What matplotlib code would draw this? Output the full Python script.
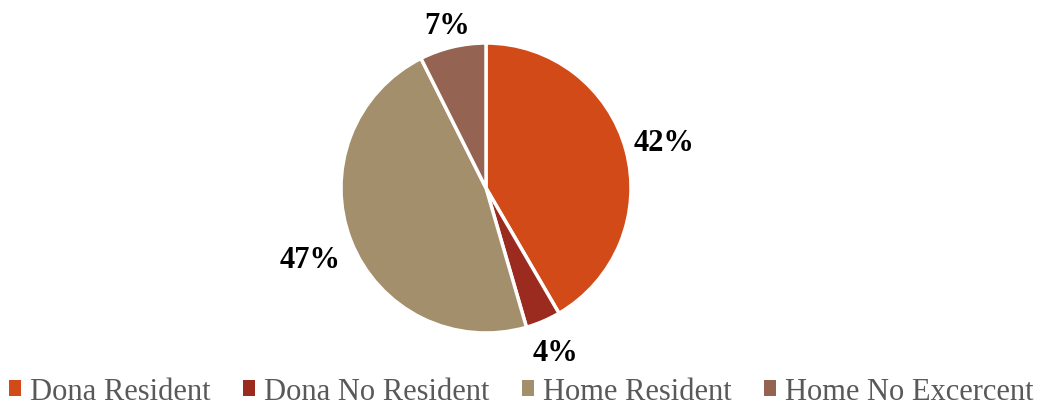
import matplotlib
matplotlib.use("Agg")
from matplotlib import pyplot as plt
from matplotlib.patches import Patch
import numpy as np

categories = ['Dona Resident', 'Dona No Resident', 'Home Resident', 'Home No Excercent']
shares = [41.6, 3.9, 47.1, 7.4]
colors = ['#D24A18', '#9B2B1E', '#A38F6B', '#956352']
# distance of each percent label from the centre (in radii)
label_dist = [1.27, 1.22, 1.30, 1.17]

plt.rcParams['font.family'] = ['Liberation Serif', 'DejaVu Serif']

fig = plt.figure(figsize=(10.43, 4.10), dpi=100)
# pie area: center ~ (486,189) px, radius ~145 px
ax = fig.add_axes([(486 - 145) / 1043, (410 - 189 - 145) / 410, 290 / 1043, 290 / 410])

wedges, texts = ax.pie(
	shares, colors=colors, startangle=90, counterclock=False, radius=1.0,
	wedgeprops=dict(edgecolor='white', linewidth=2.5))
for w, s, d in zip(wedges, shares, label_dist):
	ang = np.deg2rad((w.theta1 + w.theta2) / 2)
	ax.text(d * np.cos(ang), d * np.sin(ang) - 0.015, '%d%%' % round(s),
		ha='center', va='center', fontsize=22, fontweight='bold', color='black')
ax.set_xlim(-1, 1)
ax.set_ylim(-1, 1)
ax.set_aspect('equal')

handles = [Patch(facecolor=c, edgecolor='none') for c in colors]
fig.legend(handles, categories, loc='lower center', bbox_to_anchor=(0.5, -0.06),
	ncol=4, frameon=False, fontsize=22, labelcolor='#595959',
	handlelength=0.4, handleheight=0.4, handletextpad=0.3, columnspacing=1.05)

fig.savefig('out.png', dpi=100)
